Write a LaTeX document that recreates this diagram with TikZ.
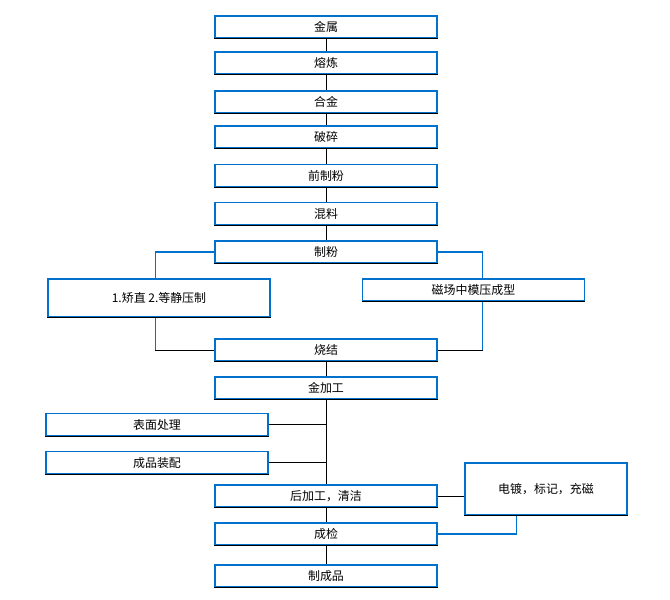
\documentclass[tikz,border=0pt]{standalone}
\usepackage{fontspec}
\setmainfont{Noto Sans CJK SC}
\usepackage{tikz}
\usetikzlibrary{calc}

\definecolor{boxblue}{RGB}{0,114,206}
\tikzset{
  stepbox/.style={draw=boxblue,line width=0.8pt,minimum width=5.55cm,minimum height=0.55cm,inner sep=0pt},
  bigbox/.style={stepbox,minimum height=0.95cm},
  bline/.style={draw=boxblue,line width=0.8pt},
  kline/.style={draw=black,line width=0.6pt}
}

\begin{document}
\begin{tikzpicture}[x=0.025cm,y=-0.025cm,font=\fontsize{8.5}{10}\selectfont]
\useasboundingbox (0,0) rectangle (670,599);
% main column
\node[stepbox] (js)  at (326,27)    {金属};
\node[stepbox] (rl)  at (326,63)    {熔炼};
\node[stepbox] (hj)  at (326,102)   {合金};
\node[stepbox] (ps)  at (326,137)   {破碎};
\node[stepbox] (qzf) at (326,175.5) {前制粉};
\node[stepbox] (hl)  at (326,213.5) {混料};
\node[stepbox] (zf)  at (326,252)   {制粉};
\node[bigbox]  (jz)  at (159,298)   {1.矫直 2.等静压制};
\node[stepbox] (cc)  at (473.5,290) {磁场中模压成型};
\node[stepbox] (sj)  at (326,350)   {烧结};
\node[stepbox] (jjg) at (326,388)   {金加工};
\node[stepbox] (bm)  at (157,424.5) {表面处理};
\node[stepbox] (zp)  at (157,462.5) {成品装配};
\node[stepbox] (hjg) at (326,496)   {后加工，清洁};
\node[stepbox,minimum width=4.05cm,minimum height=1.3cm] (dd) at (546,489) {电镀，标记，充磁};
\node[stepbox] (cj)  at (326,534)   {成检};
\node[stepbox] (zcp) at (326,576)   {制成品};

% dark bottom edges
\foreach \n in {js,rl,hj,ps,qzf,hl,zf,jz,cc,sj,jjg,bm,zp,hjg,dd,cj,zcp}
  \draw[kline] (\n.south west) -- (\n.south east);

% connectors
\draw[kline] (js) -- (rl);
\draw[kline] (rl) -- (hj);
\draw[kline] (hj) -- (ps);
\draw[kline] (ps) -- (qzf);
\draw[kline] (qzf) -- (hl);
\draw[kline] (hl) -- (zf);
\draw[bline] (zf.west) -| ([xshift=-2.8pt]jz.north);
\draw[bline] (zf.east) -| ([xshift=6.7pt]cc.north);
\draw[bline] ([xshift=-2.8pt]jz.south) -- ([xshift=-2.8pt]jz.south |- sj.west);
\draw[kline] ([xshift=-2.8pt]jz.south |- sj.west) -- (sj.west);
\draw[bline] ([xshift=6.7pt]cc.south) -- ([xshift=6.7pt]cc.south |- sj.east);
\draw[kline] ([xshift=6.7pt]cc.south |- sj.east) -- (sj.east);
\draw[kline] (sj) -- (jjg);
\draw[kline] (jjg) -- (hjg);
\draw[kline] (bm.east) -- (bm.east -| jjg.south);
\draw[kline] (zp.east) -- (zp.east -| jjg.south);
\draw[kline] (hjg.east) -- (hjg.east -| dd.west);
\draw[bline] ([xshift=-0.73cm]dd.south) |- (cj.east);
\draw[kline] (hjg) -- (cj);
\draw[kline] (cj) -- (zcp);
\end{tikzpicture}
\end{document}
